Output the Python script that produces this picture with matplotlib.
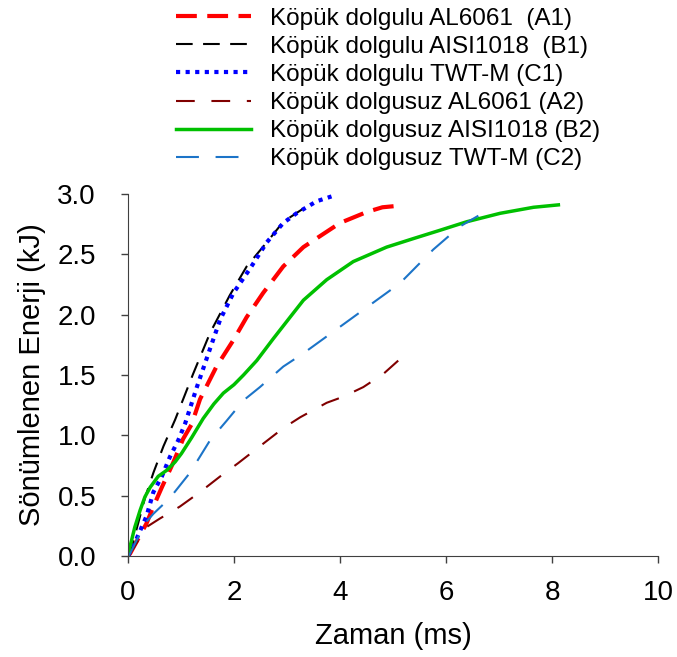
import matplotlib
matplotlib.use("Agg")
import matplotlib.pyplot as plt
import numpy as np

plt.rcParams['font.family'] = ['Liberation Sans', 'DejaVu Sans']

# Köpük dolgulu AL6061 (A1)
a1_t = [0, 0.04, 0.35, 0.48, 0.64, 0.85, 1.04, 1.20, 1.36, 1.67, 1.99, 2.24, 2.55, 2.93, 3.31, 3.62, 4.0, 4.5, 4.8, 5.04]
a1_e = [0, 0.02, 0.27, 0.41, 0.57, 0.77, 0.97, 1.09, 1.30, 1.57, 1.79, 1.98, 2.18, 2.40, 2.56, 2.65, 2.76, 2.85, 2.89, 2.90]
# Köpük dolgulu AISI1018 (B1)
b1_t = [0, 0.1, 0.32, 0.48, 0.67, 0.89, 1.23, 1.55, 1.92, 2.24, 2.62, 2.93, 3.31]
b1_e = [0, 0.12, 0.48, 0.69, 0.91, 1.13, 1.51, 1.85, 2.16, 2.40, 2.60, 2.77, 2.88]
# Köpük dolgulu TWT-M (C1)
c1_t = [0, 0.1, 0.35, 0.48, 0.64, 0.79, 0.95, 1.08, 1.30, 1.55, 1.74, 1.99, 2.30, 2.62, 2.93, 3.18, 3.56, 3.84]
c1_e = [0, 0.08, 0.33, 0.53, 0.66, 0.82, 0.96, 1.10, 1.40, 1.72, 1.96, 2.18, 2.38, 2.60, 2.76, 2.84, 2.94, 2.98]
# Köpük dolgusuz AL6061 (A2)
a2_t = [0, 0.04, 0.35, 0.60, 0.98, 1.36, 1.74, 2.08, 2.49, 2.93, 3.25, 3.75, 4.06, 4.44, 4.82, 5.10]
a2_e = [0, 0.02, 0.24, 0.31, 0.41, 0.53, 0.66, 0.77, 0.91, 1.06, 1.15, 1.27, 1.32, 1.40, 1.51, 1.62]
# Köpük dolgusuz AISI1018 (B2)
b2_t = [0, 0.04, 0.13, 0.23, 0.32, 0.42, 0.57, 0.73, 0.89, 1.01, 1.20, 1.42, 1.62, 1.80, 2.00, 2.18, 2.43, 2.74,
        3.06, 3.31, 3.75, 4.25, 4.88, 5.38, 5.89, 6.39, 7.02, 7.65, 8.12]
b2_e = [0, 0.08, 0.24, 0.38, 0.49, 0.57, 0.66, 0.71, 0.78, 0.85, 0.98, 1.14, 1.26, 1.35, 1.42, 1.50, 1.62, 1.80,
        1.98, 2.12, 2.29, 2.44, 2.56, 2.63, 2.70, 2.77, 2.84, 2.89, 2.91]
# Köpük dolgusuz TWT-M (C2)
c2_t = [0, 0.04, 0.32, 0.48, 0.79, 1.17, 1.55, 1.86, 2.18, 2.49, 2.93, 3.31, 3.75, 4.19, 4.69,
        5.13, 5.76, 6.26, 6.61]
c2_e = [0, 0.02, 0.27, 0.35, 0.48, 0.69, 0.96, 1.12, 1.29, 1.40, 1.57, 1.68, 1.82, 1.96, 2.12,
        2.26, 2.54, 2.73, 2.82]

labels = ['Köpük dolgulu AL6061  (A1)', 'Köpük dolgulu AISI1018  (B1)', 'Köpük dolgulu TWT-M (C1)',
          'Köpük dolgusuz AL6061 (A2)', 'Köpük dolgusuz AISI1018 (B2)', 'Köpük dolgusuz TWT-M (C2)']

fig = plt.figure(figsize=(6.77, 6.57), dpi=100)
ax = fig.add_axes([0.189, 0.1537, 0.783, 0.551])

ax.plot(a1_t, a1_e, color='#FF0000', lw=3, dashes=(5, 2.5), label=labels[0])
ax.plot(b1_t, b1_e, color='black', lw=1.5, dashes=(8, 5), label=labels[1])
ax.plot(c1_t, c1_e, color='#0000FF', lw=3, dashes=(1, 1.3), label=labels[2])
ax.plot(a2_t, a2_e, color='#800000', lw=1.5, dashes=(9, 8), label=labels[3])
ax.plot(b2_t, b2_e, color='#00C000', lw=2.5, label=labels[4])
ax.plot(c2_t, c2_e, color='#1C74C8', lw=1.5, dashes=(11, 8), label=labels[5])

ax.set_xlim(0, 10)
ax.set_ylim(0, 3.0)
ax.set_xticks(np.arange(0, 11, 2))
ax.set_yticks(np.arange(0, 3.01, 0.5))
ax.set_yticklabels(['%.1f' % v for v in np.arange(0, 3.01, 0.5)])
ax.tick_params(labelsize=20, direction='out', length=5, width=1, colors='#404040', labelcolor='black')
ax.tick_params(axis='x', pad=12)
ax.tick_params(axis='y', pad=18)
ax.spines['top'].set_visible(False)
ax.spines['right'].set_visible(False)
for s in ['left', 'bottom']:
    ax.spines[s].set_color('#404040')
ax.set_xlabel('Zaman (ms)', fontsize=21, labelpad=12)
ax.set_ylabel('Sönümlenen Enerji (kJ)', fontsize=21, labelpad=8)

fig.legend(loc='upper left', bbox_to_anchor=(0.245, 1.003), frameon=False, fontsize=17.5,
           handlelength=3.1, handletextpad=0.8, labelspacing=0.25, borderaxespad=0)

fig.savefig('out.png', dpi=100)
